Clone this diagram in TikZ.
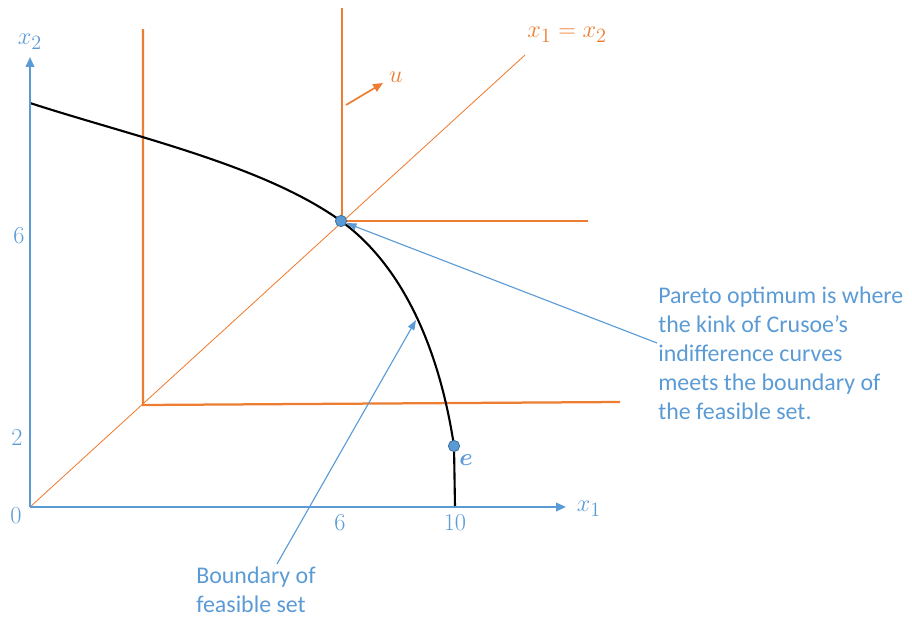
\documentclass[tikz,border=0pt]{standalone}
\usepackage{amsmath,amssymb}
\usepackage{fontspec}
\usepackage{tikz}
\usetikzlibrary{arrows.meta}
\usetikzlibrary{positioning}
\newfontfamily\notefont{Carlito}
\definecolor{azul}{RGB}{91,155,213}
\definecolor{azulesc}{RGB}{65,113,156}
\definecolor{laranja}{RGB}{237,125,49}
\tikzset{
  axis/.style={draw=azul, line width=1.4pt, -{Triangle[length=7pt, width=6pt]}},
  indiff/.style={draw=laranja, line width=1.6pt},
  diag/.style={draw=laranja, line width=0.6pt},
  frontier/.style={draw=black, line width=1.5pt},
  dot/.style={circle, fill=azul, draw=azulesc, line width=0.6pt, minimum size=8pt, inner sep=0pt},
  lbl/.style={text=#1, font=\fontsize{19}{22}\selectfont, inner sep=1pt},
  lbl/.default=azul,
  note/.style={text=azul, align=left, font=\notefont\fontsize{17}{20.6}\selectfont, inner sep=0pt},
  pointer/.style={draw=azul, line width=0.8pt, -{Triangle[length=7pt, width=5pt]}},
}
\begin{document}
\begin{tikzpicture}[x=0.025cm, y=-0.025cm]
  \useasboundingbox (0,0) rectangle (912,618);
  \coordinate (O) at (30,507);
  \coordinate (xe) at (566,507);
  \coordinate (ye) at (30,57);
  \coordinate (d) at (525,55);
  \coordinate (k1) at (143,405);
  \coordinate (k2) at (342,221);
  \coordinate (u0) at (346,105);
  \coordinate (u1) at (383,83);
  \coordinate (t1) at (657,343);
  \coordinate (t2) at (277,564);
  \coordinate (h2) at (416,320);

  \draw[diag] (O) -- (d);
  \draw[indiff] (143,29) -- (k1) -- (620,402);
  \draw[indiff] (342,8) -- (k2) -- (588,221);
  \draw[draw=laranja, line width=1.2pt, -{Triangle[length=7pt, width=6pt]}] (u0) -- (u1);
  \draw[frontier] (30,103) .. controls (135,137) and (263,165) .. (341,221)
    .. controls (411,272) and (442,366) .. (454,446) -- (455,507);
  \draw[axis] (O) -- (xe);
  \draw[axis] (O) -- (ye);

  \node[dot] (p) at (341,221) {};
  \node[dot] (e) at (454,446) {};

  \node[lbl] (x1) at (589,509) {$x_1$};
  \node[lbl] (x2) at (30,42) {$x_2$};
  \node[lbl] (zero) at (16,516) {$0$};
  \node[lbl] (two) at (17,438) {$2$};
  \node[lbl] (sixy) at (19,236) {$6$};
  \node[lbl] (sixx) at (340,523) {$6$};
  \node[lbl] (ten) at (455,523) {$10$};
  \node[lbl] (elbl) at (466,460) {$\boldsymbol{e}$};
  \node[lbl=laranja] (diaglbl) at (567,35) {$x_1 = x_2$};
  \node[lbl=laranja] (ulbl) at (396,77) {$u$};

  \node[note, anchor=west] (pareto) at (658,353) {Pareto optimum is where\\the kink of Crusoe’s\\indifference curves\\meets the boundary of\\the feasible set.};
  \node[note] (bnote) at (256,590) {Boundary of\\feasible set};

  \draw[pointer] (t1) -- (p);
  \draw[pointer] (t2) -- (h2);
\end{tikzpicture}
\end{document}
